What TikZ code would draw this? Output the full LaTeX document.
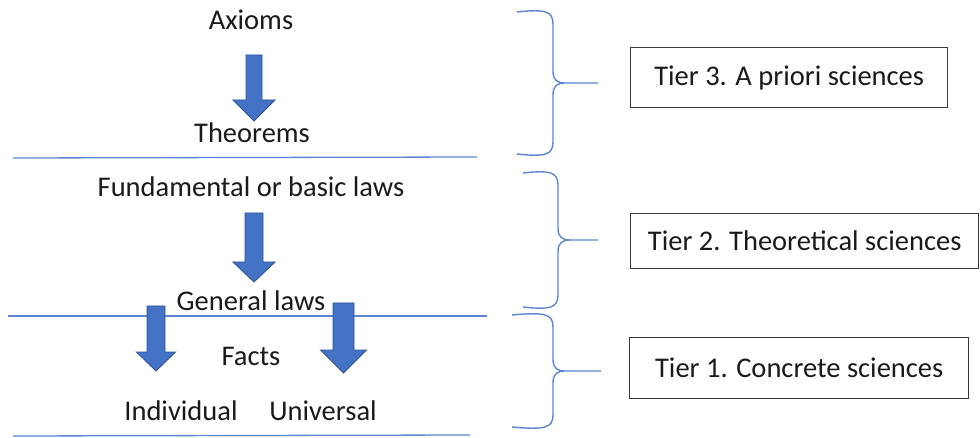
\documentclass[tikz,border=0pt]{standalone}
\usepackage{fontspec}
\setmainfont{Carlito}
\definecolor{lineblue}{HTML}{5B86D2}
\definecolor{arrfill}{HTML}{4472C4}
\definecolor{arredge}{HTML}{2F5597}
\definecolor{boxgray}{HTML}{3A3A3A}
\definecolor{txt}{HTML}{1A1A1A}
\newcommand\fatarr[6]{% xc, top, shaft half, head start, tip, head half
  \filldraw[arrowbody] (#1-#3,#2) -- (#1+#3,#2) -- (#1+#3,#4) -- (#1+#6,#4) -- (#1,#5) -- (#1-#6,#4) -- (#1-#3,#4) -- cycle;}
\newcommand\tierbrace[6]{% xleft, xvert, ytop, ytip, ybot, xtip
  \draw[bracestyle] (#1,#3) .. controls (#2-8,#3-3) and (#2,#3-1) .. (#2,#3+12) -- (#2,#4-12)
    .. controls (#2,#4-3) and (#2+4,#4) .. (#2+12,#4) -- (#6,#4)
    (#2+12,#4) .. controls (#2+4,#4) and (#2,#4+3) .. (#2,#4+12) -- (#2,#5-12)
    .. controls (#2,#5+1) and (#2-8,#5+3) .. (#1,#5);}
\begin{document}
\begin{tikzpicture}[x=1pt,y=-1pt,
  lbl/.style={anchor=base, inner sep=0pt, text=txt, font=\fontsize{28.5}{33}\selectfont},
  tierbox/.style={draw=boxgray, line width=1.4pt, anchor=north west, inner sep=0pt, text=txt, font=\fontsize{28.5}{33}\selectfont},
  sepline/.style={draw=lineblue, line width=1.3pt},
  bracestyle/.style={draw=lineblue, line width=1.4pt},
  arrowbody/.style={fill=arrfill, draw=arredge, line width=0.9pt, line join=miter}]
\useasboundingbox (0,0) rectangle (980,438);
\fill[white] (0,0) rectangle (980,438);
% text nodes
\node[lbl] (axioms) at (251,30) {Axioms};
\node[lbl] (theorems) at (252,143) {Theorems};
\node[lbl] (fund) at (251,197) {Fundamental or basic laws};
\node[lbl] (general) at (251,311) {General laws};
\node[lbl] (facts) at (251,366) {Facts};
\node[lbl] (indiv) at (181,420) {Individual};
\node[lbl] (univ) at (323,420) {Universal};
% separator lines
\coordinate (l1a) at (13,158); \coordinate (l1b) at (477,157);
\coordinate (l2a) at (8,316); \coordinate (l2b) at (487,316);
\coordinate (l3a) at (13,436); \coordinate (l3b) at (470,435);
\draw[sepline] (l1a) -- (l1b);
\draw[sepline] (l2a) -- (l2b);
\draw[sepline] (l3a) -- (l3b);
% block arrows
\fatarr{254}{55}{8}{100}{121}{21}
\fatarr{254}{213}{9}{262}{282}{21}
\fatarr{156}{306}{9}{352}{371}{19.5}
\fatarr{343.5}{303}{10.5}{350}{373}{23}
% braces
\tierbrace{517}{553}{12}{83}{154}{598}
\tierbrace{523}{558}{173}{240}{307}{598}
\tierbrace{512}{553}{315}{371}{427}{601}
% tier boxes
\node[tierbox, minimum width=317pt, minimum height=60pt] (t3) at (630,47) {Tier 3. A priori sciences};
\node[tierbox, minimum width=348pt, minimum height=55pt] (t2) at (630,213) {Tier 2. Theoretical sciences};
\node[tierbox, minimum width=339pt, minimum height=61pt] (t1) at (629,337) {Tier 1. Concrete sciences};
\end{tikzpicture}
\end{document}
